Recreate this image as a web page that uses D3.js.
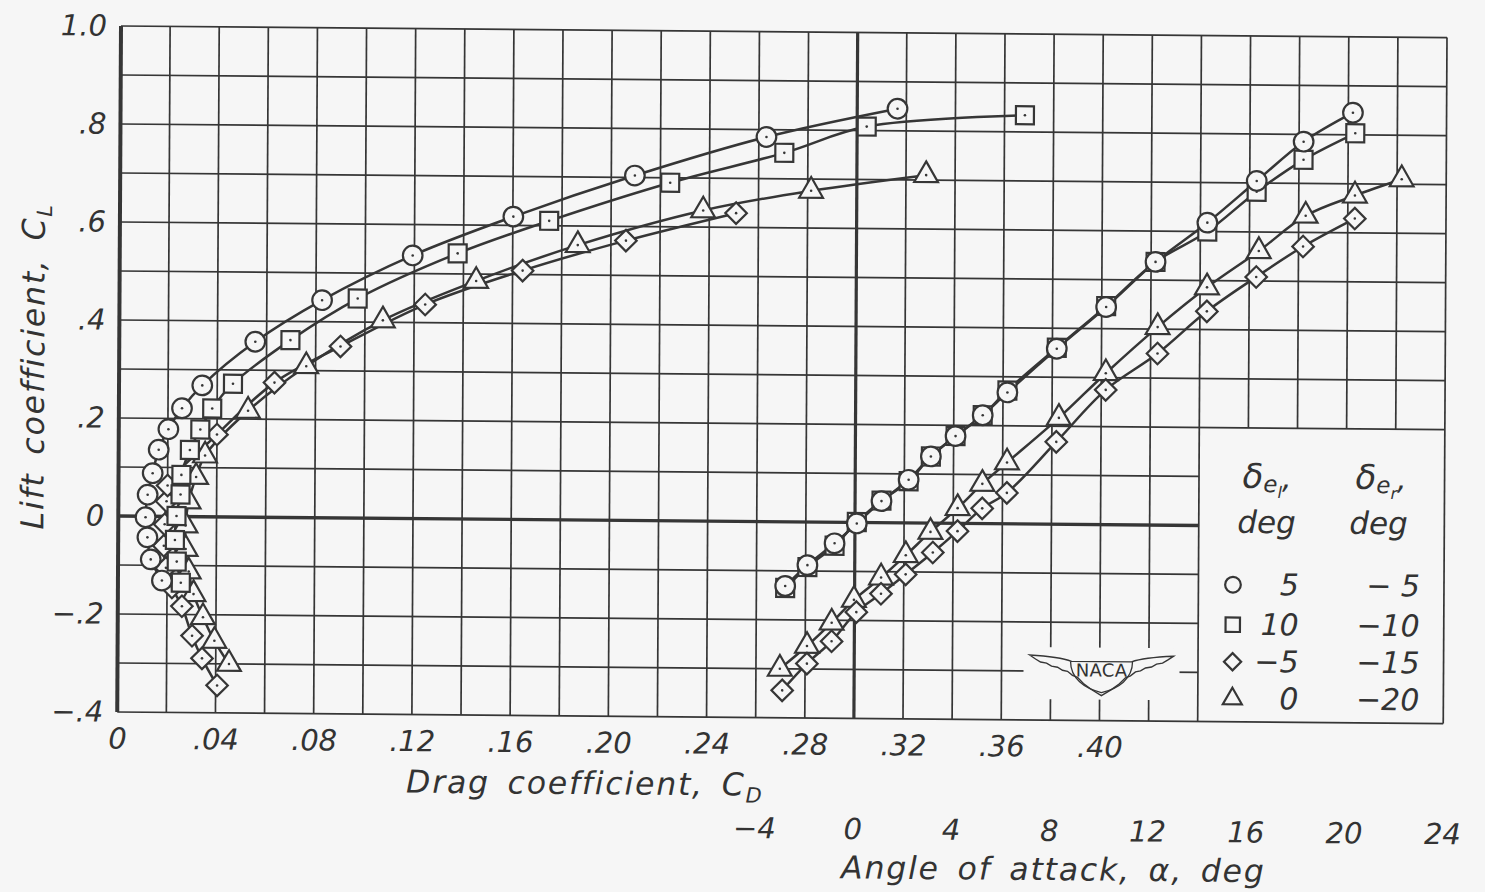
<!DOCTYPE html>
<html><head><meta charset="utf-8">
<script src="https://cdn.jsdelivr.net/npm/d3@7"></script>
<style>
html,body{margin:0;padding:0;background:#f6f6f6;}
svg{display:block;}
text{font-family:"DejaVu Sans",sans-serif;font-style:italic;fill:#333;}
</style></head><body>
<svg id="chart" width="1485" height="892"></svg>
<script>
// ---------- DATA ----------
// circle: delta_el = 5, delta_er = -5
const alphaCircle = [-2.9,-2.0,-0.9,0.0,1.0,2.1,3.0,4.0,5.1,6.1,8.1,10.1,12.1,14.2,16.2,18.1,20.1];
const clCircle    = [-0.131,-0.088,-0.043,-0.002,0.044,0.088,0.136,0.178,0.221,0.268,0.358,0.444,0.537,0.618,0.704,0.785,0.845];
const cdCircle    = [0.0179,0.0133,0.0119,0.0111,0.0119,0.0139,0.0163,0.0202,0.0257,0.0339,0.0554,0.0825,0.1193,0.1602,0.2096,0.2631,0.3164];
// square: delta_el = 10, delta_er = -10
const cdSquare    = [0.0256,0.0239,0.0231,0.0237,0.0253,0.0256,0.0290,0.0332,0.0380,0.0464,0.0697,0.0970,0.1376,0.1748,0.2240,0.2704,0.3039,0.3683];
const clSquare    = [-0.135,-0.092,-0.048,0.001,0.045,0.085,0.136,0.178,0.221,0.272,0.362,0.448,0.542,0.610,0.690,0.753,0.808,0.834];
const alphaSquare = [-2.9,-2.0,-0.9,0.0,1.0,2.1,3.0,4.0,5.1,6.1,8.1,10.1,12.1,14.2,16.2,18.1,20.2];
const clSquareLift= [-0.135,-0.092,-0.048,0.001,0.045,0.085,0.136,0.178,0.221,0.272,0.360,0.446,0.537,0.600,0.682,0.748,0.803];
// diamond: delta_el = -5, delta_er = -15
const alphaDiamond = [-3.0,-2.0,-1.0,0.0,1.0,2.0,3.1,4.1,5.1,6.1,8.1,10.1,12.2,14.2,16.2,18.1,20.2];
const clDiamond    = [-0.344,-0.289,-0.243,-0.183,-0.145,-0.105,-0.060,-0.016,0.031,0.063,0.168,0.275,0.350,0.437,0.508,0.571,0.629];
const cdDiamond    = [0.0406,0.0344,0.0303,0.0261,0.0220,0.0195,0.0186,0.0189,0.0196,0.0200,0.0400,0.0633,0.0901,0.1245,0.1641,0.2061,0.2509];
// triangle: delta_el = 0, delta_er = -20
const alphaTriangle = [-3.1,-2.0,-1.0,-0.1,1.0,2.0,3.0,4.1,5.1,6.1,8.2,10.1,12.2,14.2,16.3,18.2,20.2,22.1];
const clTriangle    = [-0.300,-0.253,-0.205,-0.158,-0.112,-0.066,-0.018,0.031,0.081,0.125,0.217,0.309,0.404,0.486,0.561,0.634,0.676,0.710];
const cdTriangle    = [0.0454,0.0394,0.0347,0.0308,0.0288,0.0275,0.0274,0.0286,0.0316,0.0352,0.0526,0.0762,0.1073,0.1452,0.1865,0.2375,0.2814,0.3282];

const shapes     = ["circle","square","diamond","triangle"];
const deltaLeft  = ["5","10","\u22125","0"];
const deltaRight = ["\u2212 5","\u221210","\u221215","\u221220"];

const clTicks  = [1.0,0.8,0.6,0.4,0.2,0,-0.2,-0.4];
const clLabels = ["1.0",".8",".6",".4",".2","0","\u2212.2","\u2212.4"];
const cdTicks  = [0,0.04,0.08,0.12,0.16,0.20,0.24,0.28,0.32,0.36,0.40];
const cdLabels = ["0",".04",".08",".12",".16",".20",".24",".28",".32",".36",".40"];
const aTicks   = [-4,0,4,8,12,16,20,24];
const aLabels  = ["\u22124","0","4","8","12","16","20","24"];

// ---------- DRAWING ----------
const W = 1485, H = 892;
const ink = "#363636", paper = "#f6f6f6";
const svg = d3.select("#chart");
svg.append("rect").attr("width", W).attr("height", H).attr("fill", paper);
// the scanned sheet is slightly skewed: horizontals drop to the right, verticals lean left
const root = svg.append("g").attr("transform", "matrix(1,0.00873,-0.0055,1,0.143,-1.056)");

const x  = d3.scaleLinear().domain([0, 0.54]).range([121, 1447]);
const y  = d3.scaleLinear().domain([-0.4, 1.0]).range([712, 26]);
const xa = d3.scaleLinear().domain([0, 24]).range([859.5, 859.5 + 24 * 24.57]);

const eps = 1e-6;
const grid = root.append("g").attr("stroke", ink).attr("stroke-width", 1.7).attr("fill", "none");
d3.range(0, 28).map(i => i / 50).forEach(v => {
  const inBox = v > 0.44 + eps && v < 0.54 - eps;
  grid.append("line").attr("x1", x(v)).attr("x2", x(v))
    .attr("y1", y(1.0)).attr("y2", inBox ? y(0.2) : y(-0.4))
    .attr("stroke-width", (v === 0) ? 4 : (Math.abs(v - 0.30) < eps ? 3.2 : 1.7));
});
d3.range(0, 15).map(i => -0.4 + i / 10).forEach(h => {
  const inBox = h < 0.2 - eps && h > -0.4 + eps;
  grid.append("line").attr("x1", x(0)).attr("x2", inBox ? x(0.44) : x(0.54))
    .attr("y1", y(h)).attr("y2", y(h))
    .attr("stroke-width", Math.abs(h) < eps ? 3.4 : 1.7);
});

// NACA emblem (blank patch + wings)
const lx = 1105, ly = 661;
root.append("rect").attr("x", lx - 78).attr("y", ly - 22).attr("width", 156).attr("height", 52).attr("fill", paper);
const logo = root.append("g").attr("transform", `translate(${lx},${ly})`);
logo.append("path")
  .attr("d", "M-72,-14 C-52,-13 -38,-11 -30,-8 L30,-8 C38,-11 52,-13 72,-14 L66,-10 L61,-7 L55,-6 L50,-3 L44,-2 L39,1 L34,2 L29,6 L24,8 L18,14 L10,20 L0,26 L-10,20 L-18,14 L-24,8 L-29,6 L-34,2 L-39,1 L-44,-2 L-50,-3 L-55,-6 L-61,-7 L-66,-10 Z")
  .attr("fill", paper).attr("stroke", ink).attr("stroke-width", 1.4);
logo.append("path")
  .attr("d", "M-31,-8 C-31,9 -17,19 0,23 C17,19 31,9 31,-8")
  .attr("fill", "none").attr("stroke", ink).attr("stroke-width", 1.3);
logo.append("text").attr("x", 0).attr("y", 7).attr("text-anchor", "middle")
  .style("font-style", "normal").style("font-family", "'DejaVu Sans'")
  .attr("font-size", 18).attr("letter-spacing", 0.3).text("NACA");

// ---------- axes (labels only) ----------
const yAxis = root.append("g").attr("transform", `translate(${x(0)},0)`)
  .call(d3.axisLeft(y).tickValues(clTicks).tickFormat((d, i) => clLabels[i]).tickSize(0).tickPadding(14));
const xAxis = root.append("g").attr("transform", `translate(0,${y(-0.4)})`)
  .call(d3.axisBottom(x).tickValues(cdTicks).tickFormat((d, i) => cdLabels[i]).tickSize(0).tickPadding(16));
const aAxis = root.append("g").attr("transform", `translate(0,${y(-0.4)})`)
  .call(d3.axisBottom(xa).tickValues(aTicks).tickFormat((d, i) => aLabels[i]).tickSize(0).tickPadding(100));
[yAxis, xAxis, aAxis].forEach(g => {
  g.select(".domain").remove();
  g.selectAll("text").attr("font-size", 29).attr("fill", "#333")
    .style("font-family", "'DejaVu Sans',sans-serif").style("font-style", "italic");
});
aAxis.selectAll("text").attr("dx", "-0.1em");

// axis titles
const tx = root.append("text").attr("x", 589).attr("y", 790).attr("text-anchor", "middle")
  .attr("font-size", 31.5).attr("letter-spacing", 1.8).attr("word-spacing", 6);
tx.append("tspan").text("Drag coefficient, C");
tx.append("tspan").attr("font-size", 21).attr("dy", 7).text("D");

root.append("text").attr("x", 1058).attr("y", 872).attr("text-anchor", "middle")
  .attr("font-size", 31.5).attr("letter-spacing", 1.8).attr("word-spacing", 6).text("Angle of attack, \u03b1, deg");

const tl = root.append("text").attr("transform", "translate(46,367) rotate(-90)").attr("text-anchor", "middle")
  .attr("font-size", 31.5).attr("letter-spacing", 1.8).attr("word-spacing", 6);
tl.append("tspan").text("Lift coefficient, C");
tl.append("tspan").attr("font-size", 21).attr("dy", 7).text("L");

// ---------- series ----------
const polar = [
  {shape: "circle",   cd: cdCircle,   cl: clCircle},
  {shape: "square",   cd: cdSquare,   cl: clSquare},
  {shape: "diamond",  cd: cdDiamond,  cl: clDiamond},
  {shape: "triangle", cd: cdTriangle, cl: clTriangle}
];
const lift = [
  {shape: "circle",   a: alphaCircle,   cl: clCircle},
  {shape: "square",   a: alphaSquare,   cl: clSquareLift},
  {shape: "diamond",  a: alphaDiamond,  cl: clDiamond},
  {shape: "triangle", a: alphaTriangle, cl: clTriangle}
];

const line = d3.line().curve(d3.curveCatmullRom.alpha(0.5));
const linesG = root.append("g").attr("fill", "none").attr("stroke", ink).attr("stroke-width", 2.5);
polar.forEach(s => {
  linesG.append("path").attr("d", line(s.cd.map((c, i) => [x(c), y(s.cl[i])])));
});
lift.forEach(s => {
  linesG.append("path").attr("d", line(s.a.map((a, i) => [xa(a), y(s.cl[i])])));
});

function drawSymbol(g, shape, cx, cy, scale, dot) {
  const sg = g.append("g").attr("transform", `translate(${cx},${cy})`)
    .attr("fill", paper).attr("stroke", ink).attr("stroke-width", 2.2);
  if (shape === "circle") {
    sg.append("circle").attr("r", 9.8 * scale);
  } else if (shape === "square") {
    const s = 18 * scale;
    sg.append("rect").attr("x", -s / 2).attr("y", -s / 2).attr("width", s).attr("height", s);
  } else if (shape === "diamond") {
    const s = 15.2 * scale;
    sg.append("rect").attr("x", -s / 2).attr("y", -s / 2).attr("width", s).attr("height", s)
      .attr("transform", "rotate(45)");
  } else {
    sg.append("path").attr("d", d3.symbol(d3.symbolTriangle, 245 * scale * scale)());
  }
  if (dot) sg.append("circle").attr("r", 1.3).attr("fill", ink).attr("stroke", "none");
}
const symG = root.append("g");
[...polar].reverse().forEach(s => s.cd.forEach((c, i) => drawSymbol(symG, s.shape, x(c), y(s.cl[i]), 1, true)));
[...lift].reverse().forEach(s => s.a.forEach((a, i) => drawSymbol(symG, s.shape, xa(a), y(s.cl[i]), 1, true)));

// ---------- legend ----------
const lg = root.append("g");
function header(xp, sub2) {
  const t = lg.append("text").attr("x", xp).attr("y", 478).attr("font-size", 34);
  t.append("tspan").text("\u03b4");
  t.append("tspan").attr("font-size", 23).attr("dy", 4).text("e");
  t.append("tspan").attr("font-size", 16).attr("dy", 6).text(sub2);
  t.append("tspan").attr("font-size", 30).attr("dy", -10).text(",");
}
header(1245, "l");
header(1358, "r");
lg.append("text").attr("x", 1240).attr("y", 523).attr("font-size", 31).text("deg");
lg.append("text").attr("x", 1352).attr("y", 523).attr("font-size", 31).text("deg");
const rowY = [585, 625, 662, 699];
shapes.forEach((sh, i) => {
  drawSymbol(lg, sh, 1236, rowY[i] - 10, 0.8, false);
  lg.append("text").attr("x", 1302).attr("y", rowY[i]).attr("text-anchor", "end").attr("font-size", 30).text(deltaLeft[i]);
  lg.append("text").attr("x", 1423).attr("y", rowY[i]).attr("text-anchor", "end").attr("font-size", 30).text(deltaRight[i]);
});
</script>
</body></html>
